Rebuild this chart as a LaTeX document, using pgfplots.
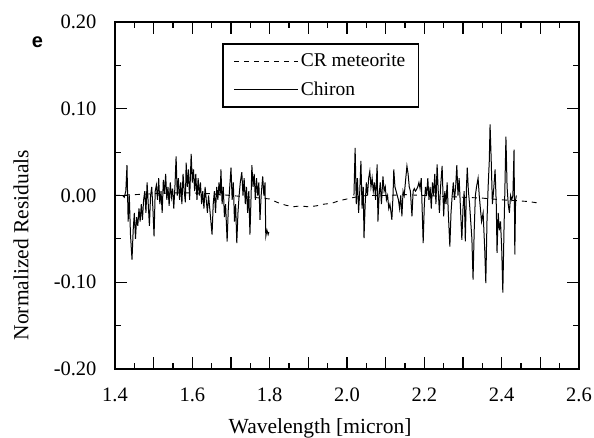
\documentclass[border=0pt]{standalone}
\usepackage{fontspec}
\setmainfont{Liberation Serif}
\newfontfamily\esans{Liberation Sans}
\usepackage{pgfplots}
\pgfplotsset{compat=1.18}
\newcommand{\xs}{\rule{0pt}{29pt}}
\newcommand{\ys}{\hspace*{15pt}}
\begin{document}
\begin{tikzpicture}[font=\fontsize{20}{23}\selectfont]
\path[use as bounding box] (-115pt,-68pt) rectangle (479pt,369pt);
\begin{axis}[
  scale only axis, width=464pt, height=347pt,
  at={(0,0)}, anchor=south west,
  xmin=1.4, xmax=2.6, ymin=-0.2, ymax=0.2,
  xtick={1.4,1.5,1.6,1.7,1.8,1.9,2.0,2.1,2.2,2.3,2.4,2.5,2.6},
  xticklabels={\xs 1.4,,\xs 1.6,,\xs 1.8,,\xs 2.0,,\xs 2.2,,\xs 2.4,,\xs 2.6},
  ytick={-0.2,-0.1,0,0.1,0.2},
  yticklabels={-0.20\ys,-0.10\ys,0.00\ys,0.10\ys,0.20\ys},
  minor x tick num=1, minor y tick num=1,
  major tick length=12pt, minor tick length=6pt,
  tick align=inside,
  axis line style={line width=1.5pt},
  every tick/.style={black, line width=1.1pt},
  tick label style={font=\fontsize{20.5}{23}\selectfont},
  xlabel={Wavelength [micron]},
  ylabel={Normalized Residuals},
  label style={font=\fontsize{21.5}{24}\selectfont},
  xlabel style={at={(axis description cs:0.442,-0.172)}, anchor=center, inner sep=0pt},
  ylabel style={at={(axis description cs:-0.2026,0.357)}, anchor=center, rotate=0, inner sep=0pt},
  legend style={at={(0.2306,0.9395)}, anchor=north west, draw=black, line width=1.7pt,
    font=\fontsize{19.5}{22}\selectfont, row sep=10pt, inner xsep=11pt, inner ysep=8pt},
  legend cell align=left,
  legend image code/.code={\draw[#1] (0pt,0pt) -- (64pt,0pt);},
  clip=false,
]
\addplot[black, line width=0.9pt, dash pattern=on 5pt off 5pt] coordinates {
(1.40,0.000) (1.45,0.001) (1.50,0.002) (1.55,0.003) (1.60,0.003) (1.65,0.002)
(1.70,0.000) (1.75,-0.002) (1.78,-0.003) (1.80,-0.004) (1.82,-0.008) (1.84,-0.011)
(1.86,-0.013) (1.88,-0.012) (1.90,-0.013) (1.92,-0.012) (1.94,-0.010) (1.96,-0.009)
(1.98,-0.006) (2.00,-0.004) (2.02,-0.002) (2.05,0.000) (2.10,0.000) (2.15,0.001)
(2.20,0.000) (2.25,-0.001) (2.30,-0.002) (2.35,-0.003) (2.40,-0.005) (2.44,-0.006)
(2.47,-0.007) (2.50,-0.009)
};
\addlegendentry{CR meteorite}
\addplot[black, line width=1pt, solid] coordinates {
(1.420,0.000) (1.424,-0.002) (1.428,0.005) (1.431,0.035) (1.434,-0.030) (1.437,0.000)
(1.440,-0.045) (1.444,-0.074) (1.447,-0.040) (1.450,-0.020) (1.453,-0.050) (1.456,-0.025)
(1.459,-0.035) (1.462,-0.015) (1.465,-0.030) (1.468,-0.010) (1.471,-0.028) (1.474,-0.005)
(1.477,0.005) (1.480,-0.020) (1.483,0.015) (1.486,-0.010) (1.489,-0.035) (1.492,0.000)
(1.495,0.010) (1.498,-0.015) (1.501,-0.047) (1.504,0.005) (1.507,0.012) (1.510,-0.005)
(1.513,0.020) (1.516,-0.010) (1.519,0.005) (1.522,-0.020) (1.525,0.018) (1.528,0.002)
(1.531,0.025) (1.534,-0.005) (1.537,0.010) (1.540,-0.012) (1.543,0.015) (1.546,-0.002)
(1.549,0.008) (1.552,-0.015) (1.555,0.010) (1.558,0.045) (1.561,0.000) (1.564,0.020)
(1.567,-0.005) (1.570,0.015) (1.573,-0.010) (1.576,0.025) (1.579,0.005) (1.582,-0.008)
(1.584,0.038) (1.587,0.010) (1.590,0.030) (1.593,-0.005) (1.597,0.048) (1.600,0.015)
(1.603,0.030) (1.606,0.005) (1.609,0.025) (1.612,-0.005) (1.615,0.020) (1.618,0.000)
(1.621,0.015) (1.624,-0.010) (1.627,0.005) (1.630,-0.015) (1.633,0.010) (1.636,-0.005)
(1.639,-0.020) (1.642,0.000) (1.645,-0.015) (1.648,-0.030) (1.651,-0.045) (1.654,-0.010)
(1.657,0.005) (1.660,-0.020) (1.663,0.010) (1.666,-0.005) (1.669,0.015) (1.672,0.000)
(1.674,0.030) (1.677,-0.010) (1.680,0.010) (1.683,-0.025) (1.686,-0.010) (1.690,-0.053)
(1.693,-0.015) (1.696,0.005) (1.700,0.032) (1.703,-0.005) (1.706,0.015) (1.709,-0.030)
(1.712,-0.010) (1.715,-0.055) (1.718,-0.020) (1.721,0.000) (1.724,0.015) (1.728,0.027)
(1.731,0.000) (1.734,0.020) (1.737,-0.010) (1.740,0.010) (1.743,-0.020) (1.746,0.005)
(1.749,-0.045) (1.752,0.000) (1.754,0.035) (1.757,0.010) (1.760,0.025) (1.763,-0.005)
(1.766,0.020) (1.769,0.000) (1.772,0.015) (1.775,-0.028) (1.778,0.000) (1.782,0.022)
(1.785,0.000) (1.788,0.015) (1.790,-0.047) (1.793,-0.040) (1.796,-0.045) (1.798,-0.042)
};
\addlegendentry{Chiron}
\addplot[black, line width=1pt, solid, forget plot] coordinates {
(2.018,0.000) (2.021,0.055) (2.024,-0.010) (2.027,0.020) (2.030,-0.020) (2.033,0.005)
(2.036,0.040) (2.039,-0.015) (2.042,0.010) (2.044,-0.049) (2.047,-0.010) (2.050,0.015)
(2.053,0.000) (2.056,0.020) (2.059,0.028) (2.062,0.010) (2.065,0.020) (2.068,0.005)
(2.071,0.015) (2.074,-0.005) (2.078,0.036) (2.080,-0.030) (2.083,0.000) (2.086,0.015)
(2.089,-0.010) (2.093,0.022) (2.096,0.005) (2.099,0.010) (2.102,-0.005) (2.105,0.000)
(2.108,-0.015) (2.111,-0.010) (2.114,-0.020) (2.116,-0.028) (2.119,0.000) (2.121,0.030)
(2.124,0.010) (2.127,0.005) (2.130,0.000) (2.133,-0.005) (2.136,-0.015) (2.139,0.000)
(2.142,-0.024) (2.145,0.005) (2.148,0.000) (2.151,0.015) (2.155,0.034) (2.158,0.025)
(2.161,0.010) (2.164,0.005) (2.168,-0.024) (2.171,0.005) (2.174,0.008) (2.177,0.005)
(2.180,0.007) (2.183,0.010) (2.186,0.015) (2.189,0.008) (2.192,0.020) (2.194,-0.010)
(2.197,-0.055) (2.200,-0.010) (2.203,0.010) (2.206,0.000) (2.209,0.020) (2.212,-0.005)
(2.215,0.010) (2.218,-0.015) (2.221,0.015) (2.224,0.000) (2.227,0.025) (2.230,-0.010)
(2.233,0.036) (2.236,0.005) (2.239,-0.020) (2.242,0.010) (2.246,0.034) (2.250,-0.024)
(2.253,0.005) (2.256,-0.010) (2.259,0.015) (2.262,-0.020) (2.266,-0.059) (2.269,-0.020)
(2.272,0.000) (2.275,0.015) (2.278,-0.005) (2.281,0.010) (2.284,0.035) (2.287,0.000)
(2.290,0.020) (2.293,-0.010) (2.297,-0.051) (2.300,-0.015) (2.303,0.005) (2.306,-0.053)
(2.309,0.010) (2.311,0.032) (2.314,0.005) (2.317,-0.010) (2.320,-0.030) (2.323,-0.050)
(2.326,-0.097) (2.329,-0.040) (2.332,0.000) (2.335,0.010) (2.339,0.020) (2.342,0.000)
(2.345,-0.015) (2.348,-0.030) (2.352,-0.020) (2.356,-0.060) (2.359,-0.101) (2.362,-0.030)
(2.365,0.010) (2.368,0.040) (2.370,0.082) (2.373,0.040) (2.376,-0.010) (2.379,0.005)
(2.383,0.030) (2.386,-0.010) (2.388,-0.066) (2.391,-0.020) (2.394,-0.040) (2.397,-0.030)
(2.400,-0.060) (2.403,-0.112) (2.406,-0.040) (2.408,0.000) (2.411,0.068) (2.414,0.010)
(2.417,-0.010) (2.420,-0.020) (2.423,0.000) (2.426,-0.005) (2.429,0.000) (2.432,0.053)
(2.434,-0.068) (2.436,-0.005) (2.438,0.000)
};
\node[font=\esans\bfseries\fontsize{20}{22}\selectfont] at (axis description cs:-0.167,0.942) {e};
\end{axis}
\end{tikzpicture}
\end{document}
